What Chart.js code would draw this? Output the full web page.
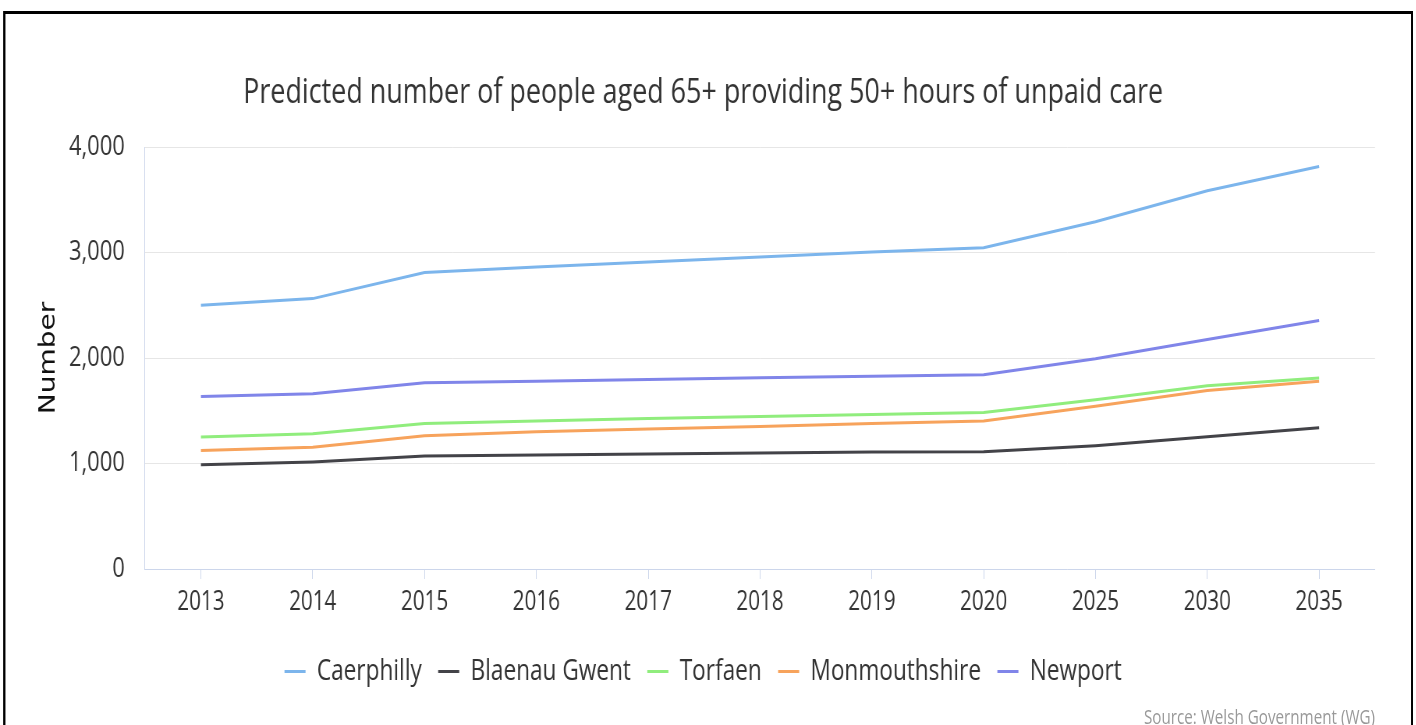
<!doctype html>
<html lang="en">
<head>
<meta charset="utf-8">
<title>Predicted number of people aged 65+ providing 50+ hours of unpaid care</title>
<style>
    * { margin: 0; padding: 0; }
    html, body { width: 1416px; height: 725px; overflow: hidden; background: #fff; }
    #page {
        position: absolute;
        left: 0;
        top: 0;
        height: 725px;
        transform-origin: 0 0;
    }
    #frame {
        position: absolute;
        top: 11px;
        height: 760px;
        border: 3px solid #000;
        pointer-events: none;
    }
    #chartBox { position: absolute; left: 0; top: 0; height: 725px; }
    #source {
        position: absolute;
        top: 703px;
        font-family: "Open Sans", sans-serif;
        font-size: 19.5px;
        color: #999;
        white-space: nowrap;
    }
</style>
</head>
<body>
<div id="page">
    <div id="chartBox"><canvas id="myChart"></canvas></div>
    <div id="frame"></div>
    <div id="source">Source: Welsh Government (WG)</div>
</div>
<script src="https://cdn.jsdelivr.net/npm/chart.js/dist/chart.umd.min.js"></script>
<script>
    // data
    const years = ['2013', '2014', '2015', '2016', '2017', '2018', '2019', '2020', '2025', '2030', '2035'];
    const caerphilly = [2500, 2563, 2810, 2862, 2910, 2957, 3005, 3046, 3292, 3586, 3815];
    const blaenauGwent = [988, 1015, 1072, 1081, 1091, 1100, 1109, 1112, 1169, 1254, 1340];
    const torfaen = [1252, 1281, 1378, 1404, 1426, 1446, 1465, 1484, 1604, 1737, 1810];
    const monmouthshire = [1123, 1155, 1264, 1300, 1326, 1351, 1380, 1404, 1542, 1691, 1779];
    const newport = [1634, 1661, 1766, 1779, 1796, 1812, 1827, 1841, 1993, 2176, 2355];
    const yTicks = [0, 1000, 2000, 3000, 4000];

    // the reference is squashed sideways, so draw wide and squeeze
    const squeeze = 0.78;
    const W = 1416 / squeeze;
    const page = document.getElementById('page');
    page.style.width = W + 'px';
    page.style.transform = `scaleX(${squeeze})`;
    document.getElementById('chartBox').style.width = W + 'px';
    const frame = document.getElementById('frame');
    frame.style.left = (3 / squeeze) + 'px';
    frame.style.width = (1410 / squeeze - 6) + 'px';
    const src = document.getElementById('source');
    src.style.right = (W - 1375 / squeeze) + 'px';

    const padLeft = 40;
    const padRight = (1416 - 1375) / squeeze;
    const plotLeft = 145 / squeeze;

    const makeSet = (label, values, color) => ({
        label,
        data: values,
        borderColor: color,
        backgroundColor: color,
        borderWidth: 3,
        pointRadius: 0,
        pointHoverRadius: 0,
        tension: 0,
        fill: false
    });

    const data = {
        labels: years,
        datasets: [
            makeSet('Caerphilly', caerphilly, '#7cb5ec'),
            makeSet('Blaenau Gwent', blaenauGwent, '#434348'),
            makeSet('Torfaen', torfaen, '#90ed7d'),
            makeSet('Monmouthshire', monmouthshire, '#f7a35c'),
            makeSet('Newport', newport, '#8085e9')
        ]
    };

    const config = {
        type: 'line',
        data,
        options: {
            responsive: true,
            maintainAspectRatio: false,
            animation: false,
            devicePixelRatio: 1,
            layout: {
                padding: { left: padLeft, right: padRight, top: 0, bottom: 29 }
            },
            plugins: {
                title: {
                    display: true,
                    text: 'Predicted number of people aged 65+ providing 50+ hours of unpaid care',
                    color: '#333333',
                    font: { family: 'Open Sans', size: 34.5, weight: 'normal' },
                    padding: { top: 72.3, bottom: 33.3 }
                },
                legend: {
                    position: 'bottom',
                    labels: {
                        usePointStyle: true,
                        pointStyle: 'line',
                        pointStyleWidth: 27,
                        boxHeight: 28,
                        padding: 21,
                        color: '#333333',
                        font: { family: 'Open Sans', size: 29 }
                    }
                },
                tooltip: { enabled: false }
            },
            scales: {
                x: {
                    offset: true,
                    grid: {
                        display: true,
                        drawOnChartArea: false,
                        drawTicks: true,
                        tickLength: 10,
                        color: '#ccd6eb',
                        lineWidth: 1
                    },
                    border: { display: true, color: '#ccd6eb', width: 1 },
                    ticks: {
                        color: '#333333',
                        padding: 8,
                        maxRotation: 0,
                        font: { family: 'Open Sans', size: 26.5 }
                    },
                    afterFit(scale) { scale.height = 67; }
                },
                y: {
                    min: 0,
                    max: 4000,
                    afterBuildTicks(scale) {
                        scale.ticks = yTicks.map(v => ({ value: v }));
                    },
                    grid: {
                        color: '#e6e6e6',
                        lineWidth: 1,
                        drawTicks: false
                    },
                    border: { display: true, color: '#ccd6eb', width: 1 },
                    ticks: {
                        color: '#333333',
                        padding: 26,
                        font: { family: 'Open Sans', size: 28 },
                        callback: v => v.toLocaleString('en-US')
                    },
                    title: {
                        display: true,
                        text: 'Number',
                        color: '#111111',
                        font: { family: 'DejaVu Sans', size: 28 },
                        padding: { top: 6, bottom: 0 }
                    },
                    afterFit(scale) { scale.width = plotLeft - padLeft; }
                }
            }
        }
    };

    const myChart = new Chart(document.getElementById('myChart'), config);
</script>
</body>
</html>
